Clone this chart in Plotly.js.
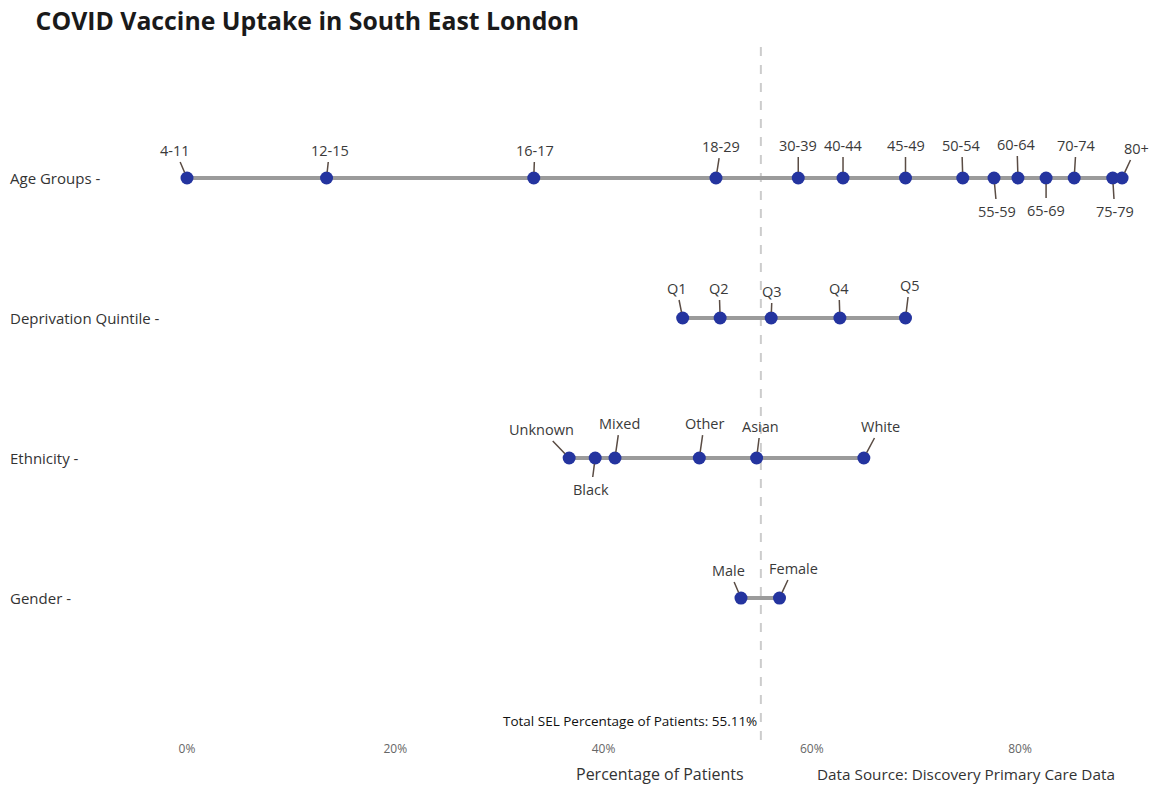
<!DOCTYPE html>
<html>
<head>
<meta charset="utf-8">
<script src="https://cdn.plot.ly/plotly-3.0.1.min.js"></script>
<style>
  html, body { margin: 0; padding: 0; background: #ffffff; }
  #chart { width: 1149px; height: 785px; }
</style>
</head>
<body>
<div id="chart"></div>
<script>
// Vaccine uptake (% of patients) by breakdown
const groupNames = ['Age Groups', 'Deprivation Quintile', 'Ethnicity', 'Gender'];

const ageLabels = ['4-11', '12-15', '16-17', '18-29', '30-39', '40-44', '45-49', '50-54', '55-59', '60-64', '65-69', '70-74', '75-79', '80+'];
const ageValues = [0.0, 13.4, 33.3, 50.8, 58.7, 63.0, 69.0, 74.5, 77.5, 79.8, 82.5, 85.2, 88.9, 89.8];

const deprivationLabels = ['Q1', 'Q2', 'Q3', 'Q4', 'Q5'];
const deprivationValues = [47.6, 51.2, 56.1, 62.7, 69.0];

const ethnicityLabels = ['Unknown', 'Black', 'Mixed', 'Other', 'Asian', 'White'];
const ethnicityValues = [36.7, 39.2, 41.1, 49.2, 54.7, 65.0];

const genderLabels = ['Male', 'Female'];
const genderValues = [53.2, 56.9];

const totalSEL = 55.11;
const xTickValues = [0, 20, 40, 60, 80];
const xTickText = ['0%', '20%', '40%', '60%', '80%'];

// Pixel offsets [dx, dy] of each data label from its dot, so labels don't collide
const ageLabelOffsets = [[-12, -28], [3, -28], [1, -28], [5, -32], [0, -33], [0, -33], [0, -33], [-1, -33],
                         [3, 33], [-1, -34], [0, 32], [2, -33], [2, 33], [14, -30]];
const deprivationLabelOffsets = [[-6, -30], [-1, -30], [1, -27], [-1, -30], [4, -33]];
const ethnicityLabelOffsets = [[-28, -29], [-4, 31], [5, -35], [5, -35], [4, -32], [17, -32]];
const genderLabelOffsets = [[-12, -28], [14, -30]];

const rows = [
  { name: groupNames[0], labels: ageLabels, values: ageValues, offsets: ageLabelOffsets },
  { name: groupNames[1], labels: deprivationLabels, values: deprivationValues, offsets: deprivationLabelOffsets },
  { name: groupNames[2], labels: ethnicityLabels, values: ethnicityValues, offsets: ethnicityLabelOffsets },
  { name: groupNames[3], labels: genderLabels, values: genderValues, offsets: genderLabelOffsets }
];

const FONT = '"Open Sans", "Noto Sans", sans-serif';
const DOT = '#24349f';

const traces = [];
const annotations = [];

rows.forEach((row, i) => {
  const yPos = rows.length - 1 - i;
  const order = row.values.map((v, k) => k).sort((a, b) => row.values[a] - row.values[b]);
  traces.push({
    type: 'scatter',
    mode: 'lines+markers',
    x: order.map(k => row.values[k]),
    y: order.map(() => yPos),
    line: { color: '#9b9b9b', width: 4 },
    marker: { color: DOT, size: 13 },
    hoverinfo: 'skip',
    cliponaxis: false,
    showlegend: false
  });

  // row caption on the left
  annotations.push({
    xref: 'paper', yref: 'y', x: -0.1314, y: yPos,
    xanchor: 'left', yanchor: 'middle',
    text: row.name + ' -', showarrow: false,
    font: { family: FONT, size: 15, color: '#333333' }
  });

  row.labels.forEach((lab, k) => {
    annotations.push({
      xref: 'x', yref: 'y', x: row.values[k], y: yPos,
      ax: row.offsets[k][0], ay: row.offsets[k][1],
      text: lab, showarrow: true, arrowhead: 0, arrowwidth: 1.5,
      arrowcolor: '#5a4c44', standoff: 6, borderpad: 2,
      font: { family: FONT, size: 14.5, color: '#3a3a3a' }
    });
  });
});

annotations.push({
  xref: 'x', yref: 'paper', x: totalSEL, y: 0,
  xanchor: 'right', yanchor: 'middle', yshift: 19, xshift: -2,
  text: 'Total SEL Percentage of Patients: ' + totalSEL.toFixed(2) + '%',
  showarrow: false,
  font: { family: FONT, size: 13.5, color: '#111111' }
});
annotations.push({
  xref: 'paper', yref: 'paper', x: 0.517, y: 0,
  xanchor: 'center', yanchor: 'middle', yshift: -34,
  text: 'Percentage of Patients', showarrow: false,
  font: { family: FONT, size: 16, color: '#333333' }
});
annotations.push({
  xref: 'paper', yref: 'paper', x: 0.672, y: 0,
  xanchor: 'left', yanchor: 'middle', yshift: -34,
  text: 'Data Source: Discovery Primary Care Data', showarrow: false,
  font: { family: FONT, size: 15.3, color: '#333333' }
});

const layout = {
  width: 1149, height: 785,
  margin: { l: 140, r: 4, t: 38, b: 45 },
  paper_bgcolor: '#ffffff', plot_bgcolor: '#ffffff',
  title: {
    text: '<b>COVID Vaccine Uptake in South East London</b>',
    x: 0.031, xanchor: 'left', y: 0.973, yanchor: 'middle',
    font: { family: FONT, size: 24.8, color: '#1a1a1a' }
  },
  xaxis: {
    range: [-4.514, 92.0],
    tickmode: 'array', tickvals: xTickValues, ticktext: xTickText,
    showgrid: false, zeroline: false, showline: false,
    ticks: '', tickfont: { family: FONT, size: 12, color: '#666666' },
    fixedrange: true
  },
  yaxis: {
    range: [-1.014, 4.0],
    showgrid: false, zeroline: false, showline: false,
    showticklabels: false, ticks: '', fixedrange: true
  },
  shapes: [{
    type: 'line', xref: 'x', yref: 'paper',
    x0: totalSEL, x1: totalSEL, y0: 0, y1: 1,
    line: { color: '#cccccc', width: 2, dash: 'dash' },
    layer: 'below'
  }],
  annotations: annotations,
  showlegend: false
};

Plotly.newPlot('chart', traces, layout, { displayModeBar: false, staticPlot: true });
</script>
</body>
</html>
